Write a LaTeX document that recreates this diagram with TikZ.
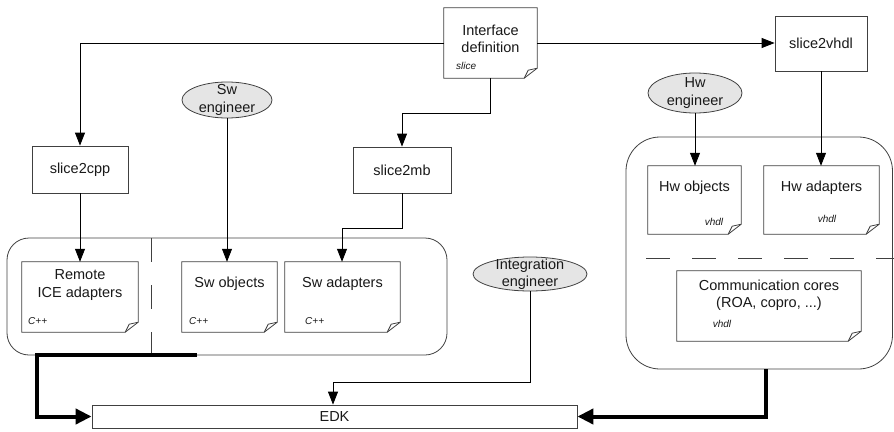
\documentclass[tikz,border=0pt]{standalone}
\usepackage{fontspec}
\setmainfont{Liberation Sans}
\usetikzlibrary{shapes.geometric,arrows.meta}

% document-style box: outline with a folded bottom-right corner
\newcommand{\drawdoc}[1]{%
  \draw[frame,fill=white] (#1.north west) -- (#1.north east)
    -- ([yshift=10pt]#1.south east) -- ([xshift=-13pt]#1.south east)
    -- (#1.south west) -- cycle;
  \draw[frame] ([xshift=-13pt]#1.south east)
    -- ([xshift=-9pt,yshift=8pt]#1.south east) -- ([yshift=10pt]#1.south east);
}

\begin{document}
\begin{tikzpicture}[x=1pt,y=-1pt,
  every node/.style={font=\fontsize{14.5}{17.5}\selectfont, text=black!90, inner sep=0pt},
  frame/.style={draw=black!75, line width=0.8pt},
  tool/.style={rectangle, draw=black!75, line width=0.8pt, fill=white},
  docshape/.style={rectangle, minimum height=70pt},
  tag/.style={font=\fontsize{10}{11}\selectfont\itshape, anchor=base west},
  vtag/.style={font=\fontsize{10}{11}\selectfont\itshape, anchor=base},
  actor/.style={ellipse, draw=black!75, line width=0.8pt, fill=black!10},
  conn/.style={draw=black, line width=0.8pt, -{Triangle[length=13pt,width=10pt]}},
  bigconn/.style={draw=black, line width=4pt, -{Triangle[length=16pt,width=15pt]}},
  group/.style={draw=black!75, line width=0.8pt},
  divider/.style={draw=black!75, line width=0.8pt, dash pattern=on 24pt off 23pt}
]
\useasboundingbox (0,0) rectangle (894,431);

% group frames
\draw[group, rounded corners=22pt] (7,238) rectangle (447,355);
\draw[group, rounded corners=34pt] (626,137) rectangle (892.5,369);
\draw[divider] (151,238) -- (151,355);
\draw[divider, dash pattern=on 24pt off 22pt] (646,258) -- (894,258);

% document boxes
\node[docshape, minimum width=93pt] (ifd) at (490.5,43) {};
\node[docshape, minimum width=116pt] (rice) at (80,297) {};
\node[docshape, minimum width=95pt] (swo) at (229.5,297) {};
\node[docshape, minimum width=115pt] (swa) at (342.5,297) {};
\node[docshape, minimum width=93pt, minimum height=68pt] (hwo) at (694.5,200) {};
\node[docshape, minimum width=115pt, minimum height=68pt] (hwa) at (821.5,200) {};
\node[docshape, minimum width=184pt] (comm) at (769,306) {};
\drawdoc{ifd}
\drawdoc{rice}
\drawdoc{swo}
\drawdoc{swa}
\drawdoc{hwo}
\drawdoc{hwa}
\drawdoc{comm}

% texts of the document boxes
\node[align=center] (ifdtext) at (490.5,39) {Interface\\definition};
\node[tag] (ifdtag) at (456,69) {slice};
\node[align=center] (ricetext) at (80,285) {Remote\\ICE adapters};
\node[tag] (ricetag) at (28,324) {C++};
\node (swotext) at (229.5,284) {Sw objects};
\node[tag] (swotag) at (189,324) {C++};
\node (swatext) at (342.5,284) {Sw adapters};
\node[tag] (swatag) at (305,324) {C++};
\node (hwotext) at (694.5,188) {Hw objects};
\node[vtag] (hwotag) at (714,225) {vhdl};
\node (hwatext) at (821.5,188) {Hw adapters};
\node[vtag] (hwatag) at (827,222) {vhdl};
\node[align=center] (commtext) at (769,295) {Communication cores\\(ROA, copro, ...)};
\node[vtag] (commtag) at (722,327) {vhdl};

% generator tools
\node[tool, minimum width=96pt, minimum height=47pt] (cpp) at (80,169.5) {slice2cpp};
\node[tool, minimum width=98pt, minimum height=46pt] (mb) at (402,170) {slice2mb};
\node[tool, minimum width=92pt, minimum height=55pt] (vhdl) at (821,43.5) {slice2vhdl};

% actors
\node[actor, minimum width=90pt, minimum height=36pt] (swe) at (227,100) {};
\node[align=center] (swetext) at (227,100) {Sw\\engineer};
\node[actor, minimum width=94pt, minimum height=40pt] (hwe) at (695,93) {};
\node[align=center] (hwetext) at (695,93) {Hw\\engineer};
\node[actor, minimum width=114pt, minimum height=34pt] (inte) at (530,274) {};
\node[align=center] (intetext) at (530,274) {Integration\\engineer};

% target
\node[tool, minimum width=485pt, minimum height=23pt] (edk) at (334.5,416.5) {EDK};

% connectors
\coordinate (c1) at (80,43);
\draw[conn] (ifd.west |- c1) -- (c1) -- (cpp.north);
\draw[conn] (ifd.east |- c1) -- (vhdl.west |- c1);
\coordinate (c2) at (490,113);
\draw[conn] (ifd.south -| c2) -- (c2) -- (mb.north |- c2) -- (mb.north);
\draw[conn] (cpp.south) -- (rice.north -| cpp.south);
\draw[conn] (swe.south) -- (swe.south |- swo.north);
\coordinate (c3) at (342,228);
\draw[conn] (mb.south) -- (mb.south |- c3) -- (c3) -- (c3 |- swa.north);
\draw[conn] (hwe.south) -- (hwe.south |- hwo.north);
\draw[conn] (vhdl.south) -- (vhdl.south |- hwa.north);
\coordinate (c4) at (333,382);
\draw[conn] (inte.south) -- (inte.south |- c4) -- (c4) -- (c4 |- edk.north);

% thick links from the two groups into EDK
\coordinate (sw1) at (197,355);
\coordinate (sw2) at (37,355);
\draw[bigconn] (sw1) -- (sw2) -- (sw2 |- edk.west) -- (edk.west);
\coordinate (hw1) at (766,369);
\draw[bigconn] (hw1) -- (hw1 |- edk.east) -- (edk.east);
\end{tikzpicture}
\end{document}
